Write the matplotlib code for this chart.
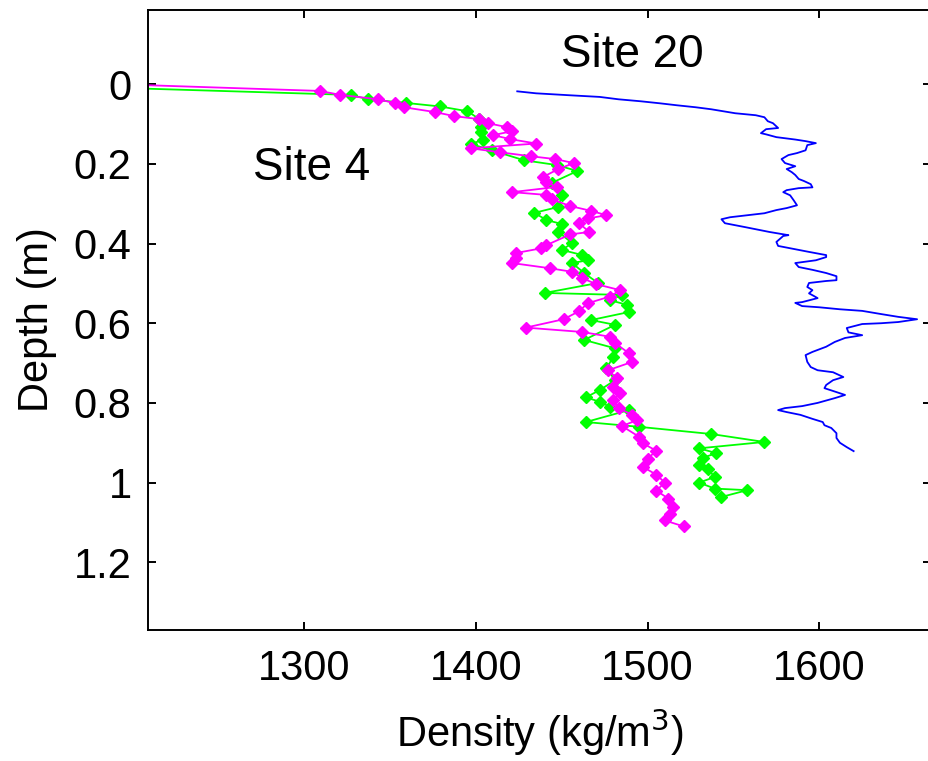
import matplotlib.pyplot as plt
from matplotlib.ticker import FuncFormatter

plt.rcParams['font.family'] = ['Liberation Sans', 'DejaVu Sans']

# Site 4, first core (green)
site4_a_density = [1190, 1327, 1337, 1359, 1379, 1395, 1402, 1403, 1403, 1404,
                   1397, 1409, 1428, 1447, 1459, 1444, 1450, 1448, 1434, 1441,
                   1450, 1448, 1456, 1450, 1462, 1465, 1456, 1463, 1471, 1440,
                   1485, 1478, 1488, 1489, 1467, 1481, 1463, 1481, 1480, 1476,
                   1481, 1472, 1464, 1472, 1478, 1489, 1464, 1495, 1537, 1568,
                   1530, 1540, 1532, 1530, 1535, 1539, 1530, 1539, 1558, 1543]
site4_a_depth = [0.009, 0.027, 0.038, 0.047, 0.056, 0.068, 0.088, 0.108, 0.120, 0.140,
                 0.150, 0.166, 0.191, 0.203, 0.218, 0.248, 0.278, 0.308, 0.323, 0.341,
                 0.351, 0.371, 0.399, 0.416, 0.429, 0.442, 0.449, 0.474, 0.499, 0.524,
                 0.529, 0.542, 0.554, 0.572, 0.592, 0.604, 0.642, 0.663, 0.684, 0.713,
                 0.743, 0.768, 0.786, 0.797, 0.810, 0.818, 0.848, 0.860, 0.878, 0.898,
                 0.914, 0.926, 0.938, 0.955, 0.965, 0.986, 1.000, 1.015, 1.019, 1.036]

# Site 4, second core (magenta)
site4_b_density = [1190, 1309, 1321, 1343, 1353, 1358, 1376, 1387, 1402, 1407,
                   1418, 1421, 1410, 1420, 1435, 1397, 1414, 1432, 1446, 1457,
                   1448, 1439, 1441, 1447, 1421, 1441, 1444, 1455, 1467, 1476,
                   1465, 1460, 1466, 1455, 1441, 1438, 1423, 1423, 1421, 1443,
                   1456, 1462, 1470, 1484, 1478, 1465, 1460, 1451, 1429, 1462,
                   1478, 1481, 1489, 1491, 1477, 1482, 1480, 1484, 1480, 1483,
                   1491, 1494, 1485, 1495, 1497, 1505, 1500, 1497, 1505, 1510,
                   1505, 1512, 1515, 1513, 1510, 1521]
site4_b_depth = [0.000, 0.017, 0.027, 0.038, 0.048, 0.058, 0.070, 0.080, 0.088, 0.098,
                 0.108, 0.118, 0.128, 0.138, 0.149, 0.161, 0.171, 0.181, 0.188, 0.198,
                 0.213, 0.233, 0.246, 0.258, 0.271, 0.278, 0.289, 0.306, 0.318, 0.329,
                 0.337, 0.349, 0.371, 0.377, 0.404, 0.412, 0.424, 0.437, 0.449, 0.462,
                 0.471, 0.487, 0.502, 0.517, 0.533, 0.550, 0.570, 0.590, 0.611, 0.622,
                 0.634, 0.650, 0.675, 0.697, 0.718, 0.738, 0.759, 0.776, 0.793, 0.813,
                 0.830, 0.843, 0.858, 0.885, 0.901, 0.920, 0.940, 0.960, 0.980, 1.000,
                 1.020, 1.040, 1.060, 1.080, 1.095, 1.110]

# Site 20 (blue)
site20_density = [1424, 1435, 1455, 1472, 1483, 1496, 1507, 1517, 1528, 1537,
                  1544, 1551, 1563, 1568, 1570, 1573, 1575, 1576, 1569, 1566,
                  1569, 1575, 1586, 1592, 1598, 1593, 1592, 1587, 1582, 1578,
                  1580, 1586, 1581, 1584, 1586, 1588, 1591, 1595, 1596, 1588,
                  1581, 1579, 1583, 1585, 1587, 1581, 1575, 1568, 1558, 1548,
                  1543, 1545, 1557, 1571, 1582, 1579, 1575, 1576, 1582, 1594,
                  1604, 1604, 1598, 1586, 1588, 1596, 1604, 1610, 1610, 1604,
                  1594, 1593, 1596, 1594, 1597, 1599, 1590, 1586, 1590, 1600,
                  1612, 1625, 1636, 1646, 1657, 1646, 1636, 1625, 1616, 1617,
                  1625, 1615, 1609, 1604, 1596, 1592, 1593, 1595, 1599, 1608,
                  1614, 1608, 1604, 1603, 1608, 1615, 1609, 1599, 1590, 1580,
                  1576, 1581, 1589, 1596, 1602, 1603, 1607, 1610, 1610, 1612,
                  1616, 1620]
site20_depth = [0.018, 0.023, 0.028, 0.032, 0.038, 0.043, 0.048, 0.053, 0.058, 0.063,
                0.068, 0.073, 0.078, 0.083, 0.093, 0.098, 0.106, 0.110, 0.113, 0.123,
                0.126, 0.133, 0.139, 0.143, 0.148, 0.153, 0.166, 0.173, 0.178, 0.188,
                0.198, 0.206, 0.213, 0.221, 0.228, 0.238, 0.243, 0.251, 0.259, 0.261,
                0.266, 0.271, 0.279, 0.291, 0.304, 0.311, 0.316, 0.324, 0.329, 0.334,
                0.339, 0.349, 0.359, 0.371, 0.379, 0.381, 0.396, 0.406, 0.411, 0.421,
                0.429, 0.434, 0.442, 0.449, 0.459, 0.466, 0.474, 0.482, 0.492, 0.494,
                0.499, 0.509, 0.517, 0.525, 0.532, 0.537, 0.547, 0.549, 0.557, 0.560,
                0.565, 0.569, 0.577, 0.584, 0.590, 0.597, 0.600, 0.602, 0.612, 0.623,
                0.630, 0.637, 0.647, 0.659, 0.672, 0.680, 0.697, 0.710, 0.718, 0.723,
                0.735, 0.743, 0.755, 0.763, 0.770, 0.780, 0.788, 0.800, 0.808, 0.813,
                0.818, 0.823, 0.830, 0.840, 0.848, 0.856, 0.863, 0.876, 0.888, 0.900,
                0.911, 0.921]

x_ticks = [1300, 1400, 1500, 1600]
y_ticks = [0, 0.2, 0.4, 0.6, 0.8, 1.0, 1.2]

fig = plt.figure(figsize=(9.29, 7.61), dpi=100)
ax = fig.add_axes([0.1596, 0.1721, 0.8424, 0.8147])

# first point of each Site 4 core sits off the left edge, so no marker there
ax.plot(site4_a_density, site4_a_depth, color='#00ff00', lw=1.3,
        marker='D', ms=6.5, markevery=slice(1, None))
ax.plot(site4_b_density, site4_b_depth, color='#ff00ff', lw=1.3,
        marker='D', ms=6.5, markevery=slice(1, None))
ax.plot(site20_density, site20_depth, color='#0000ff', lw=1.3)

ax.text(1491, -0.073, 'Site 20', fontsize=33, ha='center', va='center')
ax.text(1304, 0.211, 'Site 4', fontsize=33, ha='center', va='center')

ax.set_xlim(1209, 1665)
ax.set_ylim(1.37, -0.186)
ax.set_xticks(x_ticks)
ax.set_yticks(y_ticks)
ax.yaxis.set_major_formatter(FuncFormatter(lambda v, _: f"{v:g}"))

ax.tick_params(direction='in', length=6, width=1.4, labelsize=30,
               top=True, right=True)
ax.tick_params(axis='x', pad=14)
ax.tick_params(axis='y', pad=12)
for spine in ax.spines.values():
    spine.set_linewidth(1.4)

ax.set_xlabel('Density (kg/m$^3$)', fontsize=30, labelpad=12)
ax.set_ylabel('Depth (m)', fontsize=30, labelpad=12)

fig.savefig('out.png', dpi=100)
